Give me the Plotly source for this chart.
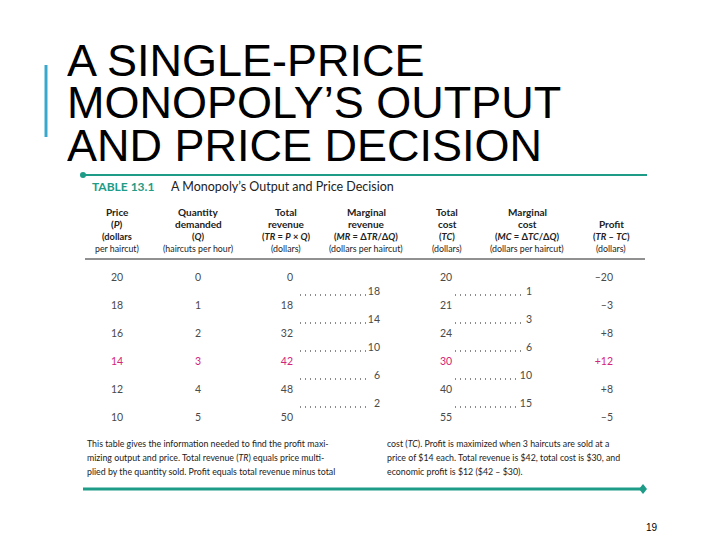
import plotly.graph_objects as go

# ---------------- data ----------------
price = [20, 18, 16, 14, 12, 10]
quantity = [0, 1, 2, 3, 4, 5]
total_revenue = [0, 18, 32, 42, 48, 50]
marginal_revenue = [18, 14, 10, 6, 2]
total_cost = [20, 21, 24, 30, 40, 55]
marginal_cost = [1, 3, 6, 10, 15]
profit = ["\u201320", "\u20133", "+8", "+12", "+8", "\u20135"]
best_row = 3

title_lines = ["A SINGLE-PRICE", "MONOPOLY\u2019S OUTPUT", "AND PRICE DECISION"]
headers = [
    ["Price", "(<i>P</i>)", "(dollars", "per haircut)"],
    ["Quantity", "demanded", "(<i>Q</i>)", "(haircuts per hour)"],
    ["Total", "revenue", "(<i>TR</i> = <i>P</i> \u00d7 <i>Q</i>)", "(dollars)"],
    ["Marginal", "revenue", "(<i>MR</i> = \u0394<i>TR</i>/\u0394<i>Q</i>)", "(dollars per haircut)"],
    ["Total", "cost", "(<i>TC</i>)", "(dollars)"],
    ["Marginal", "cost", "(<i>MC</i> = \u0394<i>TC</i>/\u0394<i>Q</i>)", "(dollars per haircut)"],
    ["", "Profit", "(<i>TR</i> \u2013 <i>TC</i>)", "(dollars)"],
]
caption_left = [
    "This table gives the information needed to find the profit maxi-",
    "mizing output and price. Total revenue (<i>TR</i>) equals price multi-",
    "plied by the quantity sold. Profit equals total revenue minus total",
]
caption_right = [
    "cost (<i>TC</i>). Profit is maximized when 3 haircuts are sold at a",
    "price of $14 each. Total revenue is $42, total cost is $30, and",
    "economic profit is $12 ($42 \u2013 $30).",
]

# ---------------- layout constants ----------------
TEAL = "#1e9c87"
BLUE = "#3aa8cc"
MAGENTA = "#d4237a"
GRAY = "#4a4a4a"
TFONT = "Lato, Noto Sans, sans-serif"
OFF = 8  # page body margin compensation

ROW0, ROWH = 278, 28
rows_y = [ROW0 + i * ROWH for i in range(len(price))]
mid_y = [ROW0 + (i + 0.5) * ROWH for i in range(len(price) - 1)]
col_x = [117, 198, 286, 366, 447, 527, 611]
head_y = [212, 223.5, 236, 248]
head_size = [10, 10, 9.3, 8.8]

colors = [MAGENTA if i == best_row else GRAY for i in range(len(price))]

fig = go.Figure()

def txt(x, y, text, pos, size=10.5, color=None, family=TFONT):
    fig.add_trace(go.Scatter(
        x=x, y=y, text=text, mode="text", textposition=pos,
        textfont=dict(size=size, color=color if color else GRAY, family=family),
        hoverinfo="skip", showlegend=False))

# data columns
txt([col_x[0]] * 6, rows_y, [str(v) for v in price], "middle center", color=colors)
txt([col_x[1]] * 6, rows_y, [str(v) for v in quantity], "middle center", color=colors)
txt([293] * 6, rows_y, [str(v) for v in total_revenue], "middle left", color=colors)
txt([440] * 6, rows_y, [str(v) for v in total_cost], "middle right", color=colors)
txt([613] * 6, rows_y, profit, "middle left", color=colors)
txt([380] * 5, mid_y, [str(v) for v in marginal_revenue], "middle left")
txt([532] * 5, mid_y, [str(v) for v in marginal_cost], "middle left")

# dotted leaders
def leaders(x0, x1s):
    xs, ys = [], []
    for y, x1 in zip(mid_y, x1s):
        xs += [x0, x1, None]
        ys += [y + 3, y + 3, None]
    fig.add_trace(go.Scatter(x=xs, y=ys, mode="lines",
                             line=dict(color="#666", width=1.3, dash="1px,4px"),
                             hoverinfo="skip", showlegend=False))

leaders(300, [366 if v >= 10 else 369 for v in marginal_revenue])
leaders(455, [517 if v >= 10 else 522 for v in marginal_cost])

# headers
for cx, lines in zip(col_x, headers):
    for j, (hy, line) in enumerate(zip(head_y, lines)):
        if not line:
            continue
        fig.add_annotation(x=cx, y=hy, text=("<b>%s</b>" % line) if j < 3 else line,
                           showarrow=False, xanchor="center", yanchor="middle",
                           font=dict(size=head_size[j], color="#222", family=TFONT))

# table title
fig.add_annotation(x=90, y=186, text="<b>TABLE 13.1</b>", showarrow=False,
                   xanchor="left", yanchor="middle",
                   font=dict(size=12, color=TEAL, family=TFONT))
fig.add_annotation(x=169, y=186, text="A Monopoly\u2019s Output and Price Decision",
                   showarrow=False, xanchor="left", yanchor="middle",
                   font=dict(size=12.5, color="#222", family=TFONT))

# slide title
for i, line in enumerate(title_lines):
    fig.add_annotation(x=65, y=59.5 + i * 42.5, text=line, showarrow=False,
                       xanchor="left", yanchor="middle", height=42, valign="middle",
                       font=dict(size=45, color="#000", family="Liberation Sans, Arial, sans-serif"))

# captions
for i, line in enumerate(caption_left):
    fig.add_annotation(x=85, y=443 + i * 14, text=line, showarrow=False,
                       xanchor="left", yanchor="middle",
                       font=dict(size=8.8, color="#222", family=TFONT))
for i, line in enumerate(caption_right):
    fig.add_annotation(x=385, y=443 + i * 14, text=line, showarrow=False,
                       xanchor="left", yanchor="middle",
                       font=dict(size=8.8, color="#222", family=TFONT))

# page number
fig.add_annotation(x=652, y=527, text="19", showarrow=False,
                   xanchor="center", yanchor="middle",
                   font=dict(size=10, color="#000", family="Liberation Sans, Arial, sans-serif"))

# decorative lines
fig.add_shape(type="line", x0=46, x1=46, y0=65, y1=137, line=dict(color=BLUE, width=3))
fig.add_shape(type="line", x0=83, x1=647, y0=175, y1=175, line=dict(color=TEAL, width=2))
fig.add_shape(type="circle", x0=80, x1=86, y0=172, y1=178, fillcolor=TEAL, line=dict(width=0))
fig.add_shape(type="line", x0=85, x1=645, y0=259, y1=259, line=dict(color="#222", width=1))
fig.add_shape(type="line", x0=83, x1=642, y0=489, y1=489, line=dict(color=TEAL, width=3))
fig.add_shape(type="path", path="M 643 484 L 647 489 L 643 494 L 639 489 Z",
              fillcolor=TEAL, line=dict(width=0))

fig.update_xaxes(range=[OFF, 720 + OFF], visible=False, fixedrange=True)
fig.update_yaxes(range=[540 + OFF, OFF], visible=False, fixedrange=True)
fig.update_layout(width=720, height=540, margin=dict(l=0, r=0, t=0, b=0),
                  paper_bgcolor="white", plot_bgcolor="white", showlegend=False)

fig.write_html("out.html", config={"displayModeBar": False})
